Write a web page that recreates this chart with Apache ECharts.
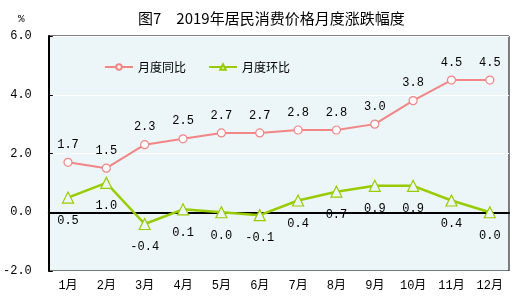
<!DOCTYPE html>
<html>
<head>
<meta charset="utf-8">
<script src="https://cdn.jsdelivr.net/npm/echarts@6/dist/echarts.min.js"></script>
<style>
  html, body { margin: 0; padding: 0; background: #fff; }
  #chart { width: 530px; height: 303px; }
</style>
</head>
<body>
<div id="chart"></div>
<script>
const months = ['1月', '2月', '3月', '4月', '5月', '6月', '7月', '8月', '9月', '10月', '11月', '12月']
const yoy = [1.7, 1.5, 2.3, 2.5, 2.7, 2.7, 2.8, 2.8, 3.0, 3.8, 4.5, 4.5] // 月度同比
const mom = [0.5, 1.0, -0.4, 0.1, 0.0, -0.1, 0.4, 0.7, 0.9, 0.9, 0.4, 0.0] // 月度环比

const numFont = '"Liberation Mono", "Noto Sans CJK SC", monospace'
const cjkFont = '"Noto Sans CJK SC", sans-serif'
const bg = '#ecf5f8'

const chart = echarts.init(document.getElementById('chart'))

chart.setOption({
  animation: false,
  title: {
    text: '图7\u30002019年居民消费价格月度涨跌幅度',
    left: 133,
    top: 6,
    textStyle: { fontFamily: cjkFont, fontSize: 15, fontWeight: 'normal', color: '#000' }
  },
  graphic: [{
    type: 'text',
    left: 18,
    top: 14,
    style: { text: '%', fontFamily: numFont, fontSize: 11, fill: '#000' }
  }],
  grid: {
    left: 48, right: 21, top: 36, bottom: 32,
    show: true,
    backgroundColor: bg,
    borderColor: '#000',
    borderWidth: 1
  },
  legend: {
    left: 99,
    top: 56,
    itemWidth: 28,
    itemHeight: 7,
    itemGap: 22,
    textStyle: { fontFamily: cjkFont, fontSize: 12, color: '#000' },
    data: ['月度同比', '月度环比']
  },
  xAxis: {
    type: 'category',
    data: months,
    boundaryGap: true,
    axisLine: { lineStyle: { color: '#000', width: 2 } },
    axisTick: { inside: true, length: 5, lineStyle: { color: '#000' } },
    axisLabel: { fontFamily: numFont, fontSize: 12, color: '#000', margin: 9 }
  },
  yAxis: {
    type: 'value',
    min: -2, max: 6, interval: 2,
    axisLine: { show: true, lineStyle: { color: '#000', width: 2 } },
    axisTick: { show: true, inside: true, length: 4, lineStyle: { color: '#000' } },
    axisLabel: {
      fontFamily: numFont, fontSize: 12, color: '#000', margin: 17,
      formatter: (v) => v.toFixed(1)
    },
    splitLine: { lineStyle: { color: '#fff', width: 1 } }
  },
  series: [
    {
      name: '月度同比',
      type: 'line',
      data: yoy,
      symbol: 'circle',
      symbolSize: 8,
      lineStyle: { color: '#f28585', width: 2 },
      itemStyle: { color: '#fff', borderColor: '#f28585', borderWidth: 1.2 },
      label: {
        show: true, position: 'top', distance: 7,
        fontFamily: numFont, fontSize: 12, color: '#000',
        formatter: (p) => p.value.toFixed(1)
      }
    },
    {
      name: '月度环比',
      type: 'line',
      data: mom,
      symbol: 'triangle',
      symbolSize: 11,
      lineStyle: { color: '#99cc00', width: 2.5 },
      itemStyle: { color: bg, borderColor: '#99cc00', borderWidth: 1.2 },
      label: {
        show: true, position: 'bottom', distance: 11,
        fontFamily: numFont, fontSize: 12, color: '#000',
        formatter: (p) => p.value.toFixed(1)
      }
    }
  ]
})
</script>
</body>
</html>
